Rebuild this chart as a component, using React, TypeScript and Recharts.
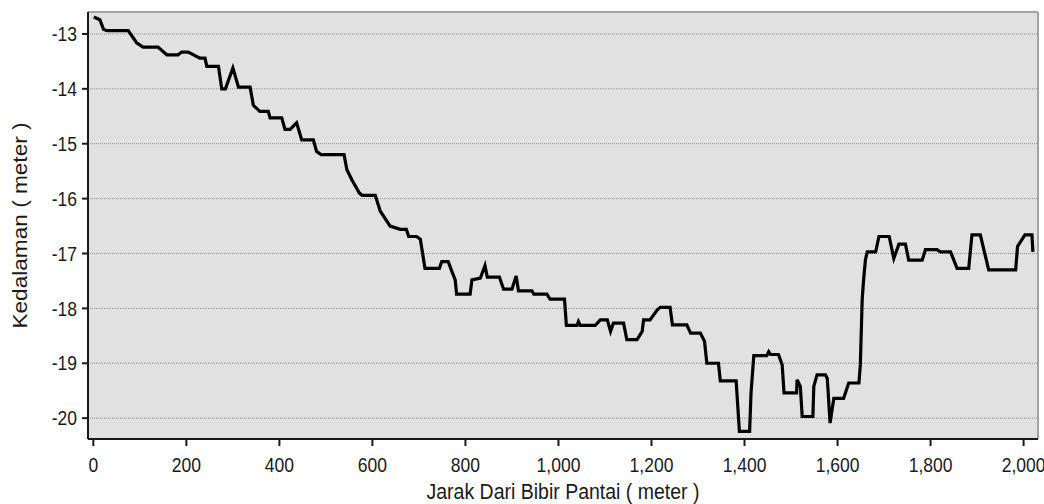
import React from "react";
import {
  LineChart,
  Line,
  XAxis,
  YAxis,
  CartesianGrid,
  ReferenceLine,
} from "recharts";

// Jarak dari bibir pantai (meter)
const distance = [
  1, 14, 22, 30, 75, 93, 107, 139, 158, 182, 190, 204, 229, 240, 244, 269, 276,
  284, 300, 312, 337, 344, 358, 376, 380, 405, 412, 423, 437, 448, 473, 480,
  490, 539, 545, 556, 572, 578, 606, 617, 638, 660, 673, 678, 695, 703, 713,
  744, 749, 763, 771, 778, 781, 810, 814, 832, 842, 847, 873, 882, 900, 909,
  914, 943, 947, 975, 982, 1013, 1017, 1040, 1043, 1047, 1079, 1090, 1105,
  1112, 1118, 1140, 1147, 1169, 1180, 1183, 1197, 1212, 1219, 1240, 1245, 1276,
  1284, 1305, 1314, 1319, 1344, 1348, 1382, 1389, 1411, 1414, 1420, 1448, 1452,
  1456, 1473, 1481, 1485, 1512, 1513, 1520, 1524, 1547, 1549, 1556, 1574, 1578,
  1584, 1592, 1613, 1624, 1646, 1649, 1653, 1656, 1660, 1664, 1682, 1689, 1711,
  1721, 1732, 1746, 1753, 1782, 1789, 1814, 1821, 1843, 1857, 1882, 1889, 1907,
  1925, 1983, 1987, 2003, 2018, 2020,
];

// Kedalaman (meter)
const depth = [
  -12.69, -12.74, -12.92, -12.94, -12.94, -13.16, -13.24, -13.24, -13.38,
  -13.38, -13.33, -13.33, -13.44, -13.44, -13.59, -13.59, -14.0, -14.0, -13.62,
  -13.97, -13.97, -14.3, -14.41, -14.41, -14.53, -14.53, -14.74, -14.74, -14.62,
  -14.93, -14.93, -15.14, -15.2, -15.2, -15.47, -15.66, -15.9, -15.94, -15.94,
  -16.23, -16.5, -16.56, -16.56, -16.69, -16.69, -16.74, -17.27, -17.27, -17.15,
  -17.15, -17.33, -17.48, -17.74, -17.74, -17.48, -17.45, -17.22, -17.43,
  -17.43, -17.65, -17.65, -17.41, -17.68, -17.68, -17.74, -17.74, -17.83,
  -17.83, -18.31, -18.31, -18.24, -18.31, -18.31, -18.21, -18.21, -18.42,
  -18.27, -18.27, -18.57, -18.57, -18.42, -18.21, -18.21, -18.03, -17.98,
  -17.98, -18.3, -18.3, -18.45, -18.45, -18.6, -19.0, -19.0, -19.32, -19.32,
  -20.24, -20.24, -19.54, -18.86, -18.86, -18.79, -18.84, -18.84, -19.03,
  -19.54, -19.54, -19.3, -19.42, -19.97, -19.97, -19.42, -19.21, -19.21,
  -19.28, -20.09, -19.64, -19.64, -19.36, -19.36, -19.03, -17.84, -17.48,
  -17.11, -16.97, -16.97, -16.69, -16.69, -17.09, -16.83, -16.83, -17.12,
  -17.12, -16.93, -16.93, -16.97, -16.97, -17.27, -17.27, -16.66, -16.66, -17.3,
  -17.3, -16.87, -16.66, -16.66, -16.97,
];

const xTicks = [0, 200, 400, 600, 800, 1000, 1200, 1400, 1600, 1800, 2000];
const yTicks = [-20, -19, -18, -17, -16, -15, -14, -13];

const data = distance.map((d, i) => ({ distance: d, depth: depth[i] }));

const FONT = "'Liberation Sans', Arial, sans-serif";
const STRETCH = 1.16;
const INK = "#1a1a1a";

const XTick = (props: any) => {
  const { x, y, payload } = props;
  return (
    <g transform={`translate(${x},${y}) scale(1,${STRETCH})`}>
      <text
        textAnchor="middle"
        dy="0.71em"
        fontSize={17.5}
        fontFamily={FONT}
        fill={INK}
      >
        {Number(payload.value).toLocaleString("en-US")}
      </text>
    </g>
  );
};

const YTick = (props: any) => {
  const { x, y, payload } = props;
  return (
    <g transform={`translate(${x},${y}) scale(1,${STRETCH})`}>
      <text
        textAnchor="end"
        dy="0.355em"
        fontSize={17.5}
        fontFamily={FONT}
        fill={INK}
      >
        {String(payload.value)}
      </text>
    </g>
  );
};

const XTitle = (props: any) => {
  const vb = props.viewBox || { x: 88, y: 439, width: 950, height: 65 };
  const cx = vb.x + vb.width / 2;
  const cy = vb.y + vb.height - 5;
  return (
    <g transform={`translate(${cx},${cy}) scale(1,${STRETCH})`}>
      <text textAnchor="middle" fontSize={19.5} fontFamily={FONT} fill={INK}>
        Jarak Dari Bibir Pantai ( meter )
      </text>
    </g>
  );
};

const YTitle = (props: any) => {
  const vb = props.viewBox || { x: 0, y: 12, width: 88, height: 427 };
  const cx = vb.x + 20.5;
  const cy = vb.y + vb.height / 2;
  return (
    <g transform={`translate(${cx},${cy}) scale(1,${STRETCH}) rotate(-90)`}>
      <text
        textAnchor="middle"
        dy="0.355em"
        fontSize={19.5}
        fontFamily={FONT}
        fill={INK}
      >
        Kedalaman ( meter )
      </text>
    </g>
  );
};

export default function App() {
  return (
    <div style={{ position: "absolute", left: 0, top: 0, background: "#fff" }}>
      <LineChart
        width={1044}
        height={504}
        data={data}
        margin={{ top: 12, right: 6, bottom: 0, left: 0 }}
      >
        <CartesianGrid
          vertical={false}
          fill="#e1e1e1"
          stroke="#8e8e8e"
          strokeDasharray="1 1"
        />
        <XAxis
          dataKey="distance"
          type="number"
          domain={[-11.5, 2031]}
          ticks={xTicks}
          allowDataOverflow
          height={65}
          tickSize={7}
          tickMargin={12}
          axisLine={{ stroke: INK, strokeWidth: 2 }}
          tickLine={{ stroke: INK, strokeWidth: 2 }}
          tick={<XTick />}
          label={<XTitle />}
        />
        <YAxis
          type="number"
          domain={[-20.38, -12.6]}
          ticks={yTicks}
          allowDataOverflow
          width={88}
          tickSize={6}
          tickMargin={5}
          axisLine={{ stroke: INK, strokeWidth: 2 }}
          tickLine={{ stroke: INK, strokeWidth: 2 }}
          tick={<YTick />}
          label={<YTitle />}
        />
        <ReferenceLine y={-12.6} stroke="#a3a3a3" strokeWidth={2} />
        <ReferenceLine x={2031} stroke="#a3a3a3" strokeWidth={2} />
        <Line
          type="linear"
          dataKey="depth"
          stroke="#000"
          strokeWidth={3.2}
          dot={false}
          activeDot={false}
          isAnimationActive={false}
        />
      </LineChart>
    </div>
  );
}
